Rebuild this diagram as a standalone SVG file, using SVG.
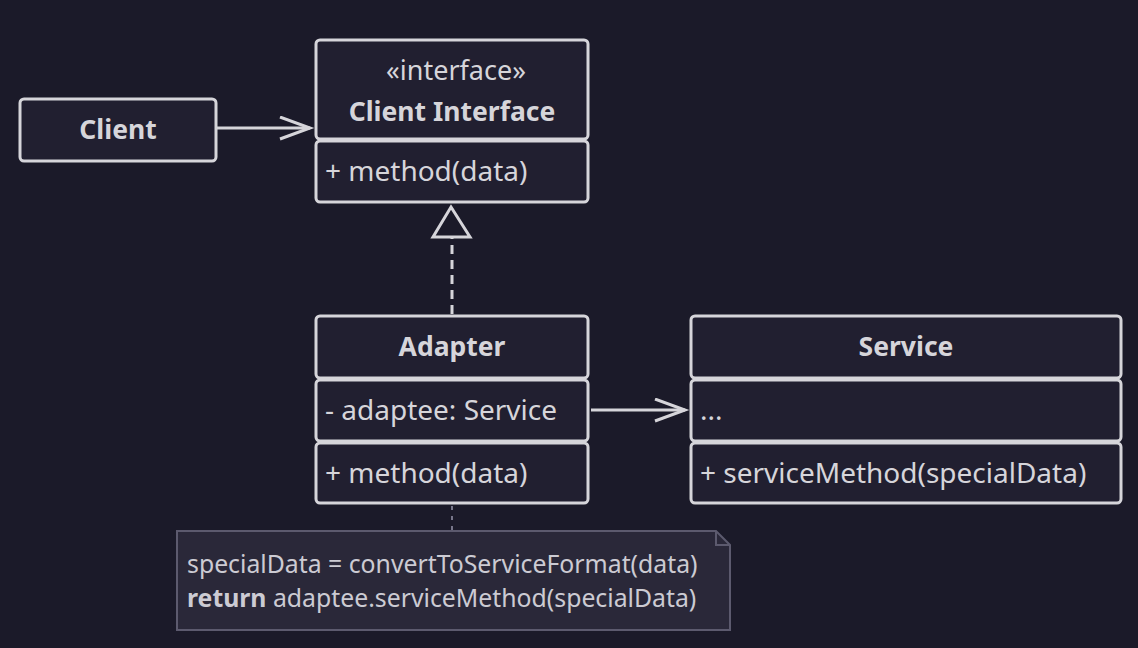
<svg xmlns="http://www.w3.org/2000/svg" width="1138" height="648" viewBox="0 0 1138 648">
<defs>
<style>
.box{fill:#211f30;stroke:#d6d5da;stroke-width:3}
.t{font-family:"Noto Sans","Open Sans",sans-serif;fill:#d6d5da;font-size:28px}
.b{font-weight:bold;text-anchor:middle;font-size:26.5px}
.c{text-anchor:middle;font-size:27px}
.n{font-family:"Noto Sans","Open Sans",sans-serif;fill:#cccbd3;font-size:24.8px}
.line{stroke:#d6d5da;stroke-width:3;fill:none}
</style>
<marker id="open" markerUnits="userSpaceOnUse" markerWidth="40" markerHeight="40" refX="31" refY="12" orient="auto">
<path d="M1,1 L31,12 L1,23" fill="none" stroke="#d6d5da" stroke-width="3"/>
</marker>
</defs>
<rect width="1138" height="648" fill="#1b1a29"/>
<g id="connectors">
<line class="line" x1="217" y1="128" x2="310" y2="128" marker-end="url(#open)"/>
<line class="line" x1="591" y1="410" x2="685" y2="410" marker-end="url(#open)"/>
<line class="line" x1="452" y1="314" x2="452" y2="238" stroke-dasharray="9,6"/>
<path d="M451,207 L470,237 L433,237 Z" fill="none" stroke="#d6d5da" stroke-width="3" stroke-linejoin="miter"/>
<line x1="452" y1="506" x2="452" y2="530" stroke="#77768a" stroke-width="2" stroke-dasharray="4,6"/>
</g>
<g id="client">
<rect class="box" x="20" y="99" width="196" height="62" rx="4"/>
<text class="t b" x="118" y="139">Client</text>
</g>
<g id="client-interface">
<rect class="box" x="316" y="40" width="272" height="99" rx="4"/>
<rect class="box" x="316" y="141" width="272" height="61" rx="4"/>
<text class="t c" x="456" y="80">«interface»</text>
<text class="t b" x="452" y="121">Client Interface</text>
<text class="t" x="325" y="181">+ method(data)</text>
</g>
<g id="adapter">
<rect class="box" x="316" y="316" width="272" height="62" rx="4"/>
<rect class="box" x="316" y="380" width="272" height="61" rx="4"/>
<rect class="box" x="316" y="443" width="272" height="60" rx="4"/>
<text class="t b" x="452" y="356">Adapter</text>
<text class="t" x="325" y="420">- adaptee: Service</text>
<text class="t" x="325" y="483">+ method(data)</text>
</g>
<g id="service">
<rect class="box" x="691" y="316" width="430" height="62" rx="4"/>
<rect class="box" x="691" y="380" width="430" height="61" rx="4"/>
<rect class="box" x="691" y="443" width="430" height="60" rx="4"/>
<text class="t b" x="906" y="356">Service</text>
<text class="t" x="700" y="420">...</text>
<text class="t" x="700" y="483">+ serviceMethod(specialData)</text>
</g>
<g id="note">
<path d="M177,531 H716 L730,545 V630 H177 Z" fill="#2a2839" stroke="#5c5a6e" stroke-width="2"/>
<path d="M716,531 V545 H730" fill="none" stroke="#5c5a6e" stroke-width="2"/>
<text class="n" x="187" y="573">specialData = convertToServiceFormat(data)</text>
<text class="n" x="187" y="607"><tspan font-weight="bold">return</tspan> adaptee.serviceMethod(specialData)</text>
</g>
</svg>
